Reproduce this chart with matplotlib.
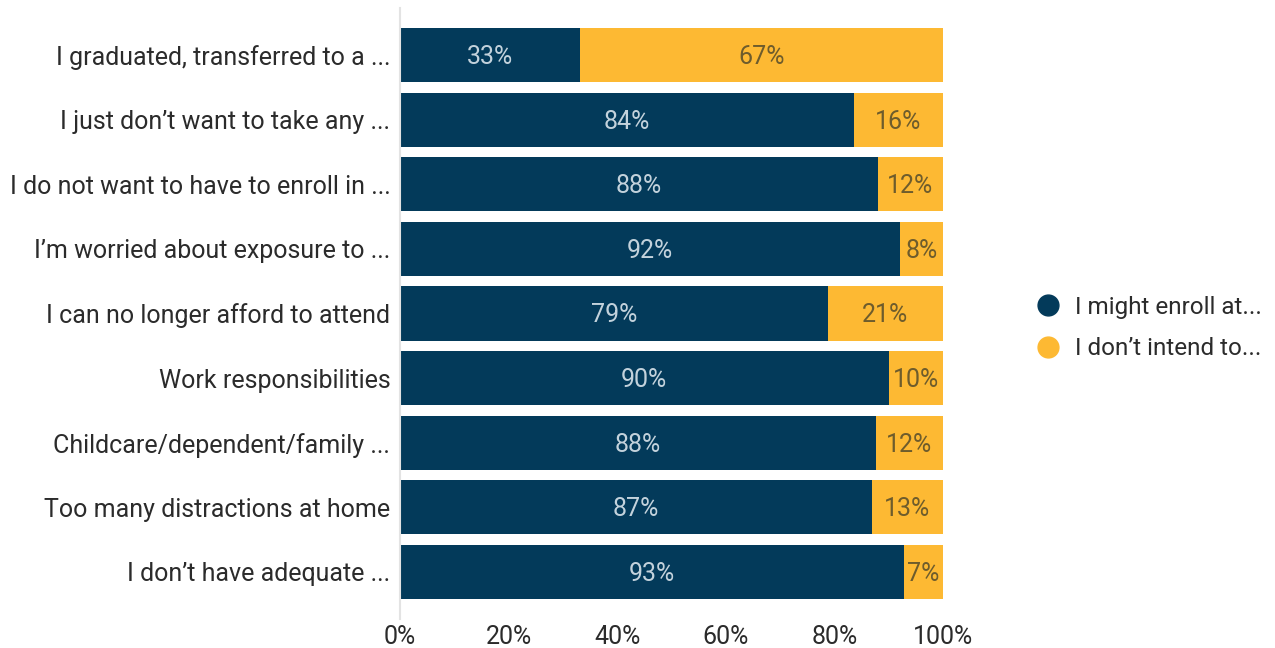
import matplotlib.pyplot as plt
from matplotlib.lines import Line2D

plt.rcParams['font.family'] = ['Roboto', 'DejaVu Sans']

categories = ['I graduated, transferred to a ...', 'I just don\u2019t want to take any ...',
              'I do not want to have to enroll in ...', 'I\u2019m worried about exposure to ...',
              'I can no longer afford to attend', 'Work responsibilities',
              'Childcare/dependent/family ...', 'Too many distractions at home',
              'I don\u2019t have adequate ...']
might_enroll = [33.2, 83.6, 88.0, 92.1, 78.8, 90.0, 87.6, 86.9, 92.8]
dont_intend = [100 - v for v in might_enroll]
series_names = ['I might enroll at...', 'I don\u2019t intend to...']
xticks = [0, 20, 40, 60, 80, 100]

navy = '#033a5a'
gold = '#fdb933'
fs = 18

fig = plt.figure(figsize=(12.75, 6.48), dpi=100)
ax = fig.add_axes([400 / 1275, 29 / 648, 543 / 1275, 611 / 648])

y = list(range(len(categories)))
b1 = ax.barh(y, might_enroll, height=0.84, color=navy)
b2 = ax.barh(y, dont_intend, left=might_enroll, height=0.84, color=gold)

# value labels, centred in each segment
for rect, v in zip(b1, might_enroll):
    ax.text(rect.get_x() + rect.get_width() / 2, rect.get_y() + rect.get_height() / 2 + 0.03,
            f'{round(v)}%', ha='center', va='center', fontsize=fs, color='#c3d2dc')
for rect, v in zip(b2, dont_intend):
    ax.text(rect.get_x() + rect.get_width() / 2, rect.get_y() + rect.get_height() / 2 + 0.03,
            f'{round(v)}%', ha='center', va='center', fontsize=fs, color='#6e5c2c')

ax.set_ylim(8.73, -0.73)
ax.set_xlim(0, 100)
ax.set_yticks(y)
ax.set_yticklabels(categories, fontsize=fs, color='#2b2b2b')
ax.set_xticks(xticks)
ax.set_xticklabels([f'{t}%' for t in xticks], fontsize=fs, color='#2b2b2b')
ax.tick_params(axis='y', length=0, pad=7)
ax.tick_params(axis='x', length=0, pad=4)
for s in ['top', 'right', 'bottom']:
    ax.spines[s].set_visible(False)
ax.spines['left'].set_color('#e3e3e3')
ax.spines['left'].set_linewidth(1.5)

handles = [Line2D([], [], marker='o', linestyle='none', markersize=15, color=c)
           for c in [navy, gold]]
fig.legend(handles, series_names, loc='center left', bbox_to_anchor=(1036 / 1275, 1 - 328 / 648),
           frameon=False, fontsize=17.5, handlelength=1.0, handletextpad=0.6,
           labelspacing=0.75, borderpad=0, borderaxespad=0, labelcolor='#2b2b2b')

fig.savefig('out.png', dpi=100)
